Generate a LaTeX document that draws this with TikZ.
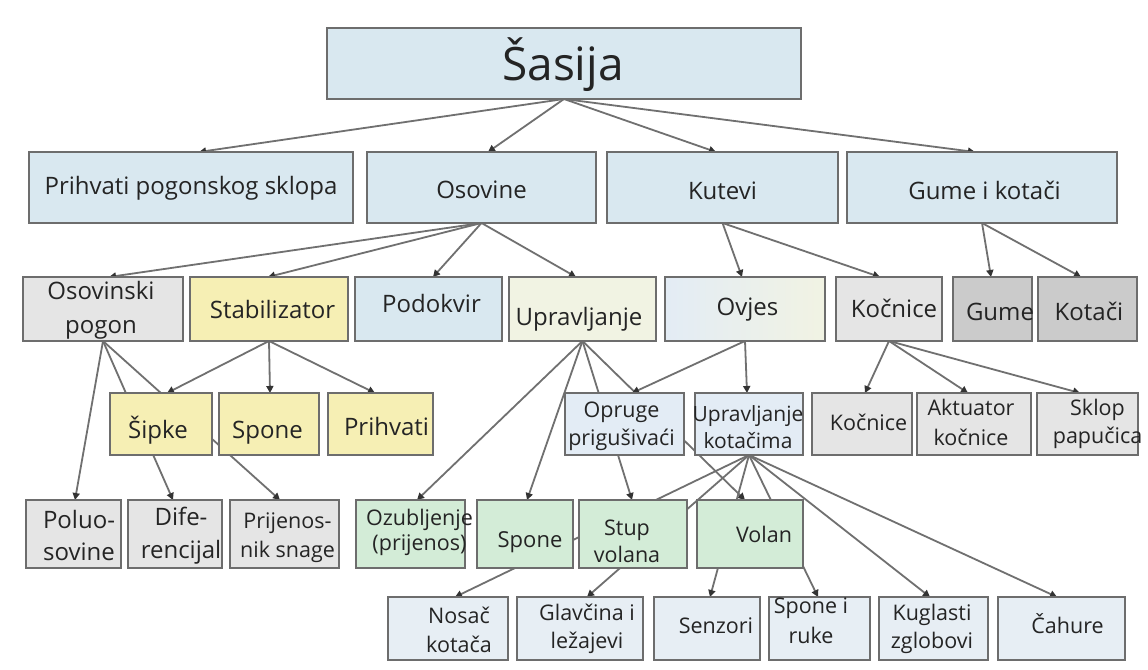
\documentclass[tikz,border=0pt]{standalone}
\usepackage{fontspec}
\setmainfont{Open Sans}
\usetikzlibrary{arrows.meta,backgrounds}
\definecolor{cBlue}{HTML}{D9E8F0}
\definecolor{cGrey}{HTML}{E5E5E5}
\definecolor{cDark}{HTML}{CBCBCB}
\definecolor{cYellow}{HTML}{F6EFB4}
\definecolor{cCream}{HTML}{F1F3E3}
\definecolor{cPale}{HTML}{E3ECF5}
\definecolor{cGreen}{HTML}{D3ECD7}
\definecolor{cLow}{HTML}{E7EEF4}
\definecolor{cBorder}{HTML}{6D6D6D}
\definecolor{cLine}{HTML}{707070}
\definecolor{cTxt}{HTML}{242424}
\newcommand\fs[2]{\fontsize{#1}{#2}\selectfont}
% #1 horizontal shift of text centre, #2 first baseline below box centre, #3 text
\newcommand\tx[3]{\makebox[0pt]{\hspace*{#1pt}\hspace*{#1pt}\raisebox{-#2pt}[0pt][0pt]{\begin{tabular}[t]{@{}c@{}}#3\end{tabular}}}}
\tikzset{
  bx/.style={draw=cBorder, line width=1.6, inner sep=0, outer sep=0, text=cTxt},
  ed/.style={draw=cLine, line width=1.8, -{Triangle[length=7pt,width=7pt,color=black!80]}},
}
\begin{document}
\begin{tikzpicture}[x=1pt,y=-1pt]
\useasboundingbox (0,0) rectangle (1148,669);
% level 0
\node[bx, fill=cBlue, minimum width=474, minimum height=71, font=\fs{46}{52}] (sasija) at (564,63.5) {\tx{-1}{17}{Šasija}};
% level 1
\node[bx, fill=cBlue, minimum width=324, minimum height=71, font=\fs{24}{34}] (prihvati) at (191,187.5) {\tx{0}{7}{Prihvati pogonskog sklopa}};
\node[bx, fill=cBlue, minimum width=229, minimum height=71, font=\fs{24}{34}] (osovine) at (481.5,187.5) {\tx{0}{10.5}{Osovine}};
\node[bx, fill=cBlue, minimum width=231, minimum height=71, font=\fs{24}{34}] (kutevi) at (722.5,187.5) {\tx{0}{11.5}{Kutevi}};
\node[bx, fill=cBlue, minimum width=270, minimum height=71, font=\fs{24}{34}] (gumeik) at (982,187.5) {\tx{2.5}{12}{Gume i kotači}};
% level 2
\node[bx, fill=cGrey, minimum width=160, minimum height=64, font=\fs{24}{34}] (osovpogon) at (103,309) {\tx{-2}{-10}{Osovinski\\pogon}};
\node[bx, fill=cYellow, minimum width=158, minimum height=64, font=\fs{24}{34}] (stabil) at (269,309) {\tx{3.5}{9}{Stabilizator}};
\node[bx, fill=cBlue, minimum width=147, minimum height=64, font=\fs{24}{34}] (podokvir) at (428.5,309) {\tx{3}{3}{Podokvir}};
\node[bx, fill=cCream, minimum width=147, minimum height=64, font=\fs{24}{34}] (upravljanje) at (582.5,309) {\tx{-3.5}{16}{Upravljanje}};
\node[bx, left color=cPale, right color=cCream, minimum width=160, minimum height=64, font=\fs{24}{34}] (ovjes) at (745,309) {\tx{2.5}{6}{Ovjes}};
\node[bx, fill=cGrey, minimum width=106, minimum height=64, font=\fs{24}{34}] (kocnice) at (889,309) {\tx{5}{8}{Kočnice}};
\node[bx, fill=cDark, minimum width=79, minimum height=64, font=\fs{24}{34}] (gume) at (992.5,309) {\tx{7.5}{11}{Gume}};
\node[bx, fill=cDark, minimum width=99, minimum height=64, font=\fs{24}{34}] (kotaci) at (1087.5,309) {\tx{1.5}{11}{Kotači}};
% level 3
\node[bx, fill=cYellow, minimum width=102, minimum height=62, font=\fs{24}{34}] (sipke) at (161,424) {\tx{-3}{14}{Šipke}};
\node[bx, fill=cYellow, minimum width=100, minimum height=62, font=\fs{24}{34}] (spone) at (269,424) {\tx{-1.5}{14}{Spone}};
\node[bx, fill=cYellow, minimum width=105, minimum height=62, font=\fs{24}{34}] (prihvati2) at (380.5,424) {\tx{6}{11}{Prihvati}};
\node[bx, fill=cPale, minimum width=119, minimum height=62, font=\fs{21.5}{28}] (opruge) at (624.5,424) {\tx{-3}{-7}{Opruge\\prigušivaći}};
\node[bx, fill=cPale, minimum width=108, minimum height=62, font=\fs{21}{27}] (upkot) at (749,424) {\tx{-1}{-3}{Upravljanje\\kotačima}};
\node[bx, fill=cGrey, minimum width=100, minimum height=62, font=\fs{21.5}{28}] (kocnice2) at (862,424) {\tx{6.5}{6}{Kočnice}};
\node[bx, fill=cGrey, minimum width=114, minimum height=62, font=\fs{21.5}{30}] (aktuator) at (974,424) {\tx{-3}{-9}{Aktuator\\kočnice}};
\node[bx, fill=cGrey, minimum width=101, minimum height=62, font=\fs{21.5}{28}] (sklop) at (1087.5,424) {\tx{10}{-9}{Sklop\\papučica}};
% level 4
\node[bx, fill=cGrey, minimum width=95, minimum height=68, font=\fs{24}{32}] (poluo) at (73.5,534) {\tx{5.5}{-6}{Poluo-\\sovine}};
\node[bx, fill=cGrey, minimum width=94, minimum height=68, font=\fs{24}{33}] (dife) at (175,534) {\tx{6}{-9}{Dife-\\rencijal}};
\node[bx, fill=cGrey, minimum width=109, minimum height=68, font=\fs{21.5}{29}] (prijenos) at (284.5,534) {\tx{3}{-6}{Prijenos-\\nik snage}};
\node[bx, fill=cGreen, minimum width=109, minimum height=68, font=\fs{21.5}{25}] (ozub) at (410.5,534) {\tx{9}{-9}{Ozubljenje\\(prijenos)}};
\node[bx, fill=cGreen, minimum width=96, minimum height=68, font=\fs{22}{28}] (spone2) at (525,534) {\tx{5}{13}{Spone}};
\node[bx, fill=cGreen, minimum width=108, minimum height=68, font=\fs{21.5}{27}] (stup) at (633,534) {\tx{-6}{1}{Stup\\volana}};
\node[bx, fill=cGreen, minimum width=106, minimum height=68, font=\fs{21.5}{27}] (volan) at (750,534) {\tx{14}{8}{Volan}};
% level 5
\node[bx, fill=cLow, minimum width=120, minimum height=63, font=\fs{21.5}{29}] (nosac) at (448,628.5) {\tx{11}{-5.5}{Nosač\\kotača}};
\node[bx, fill=cLow, minimum width=126, minimum height=63, font=\fs{21.5}{28}] (glavcina) at (580,628.5) {\tx{7}{-8.5}{Glavčina i\\ležajevi}};
\node[bx, fill=cLow, minimum width=106, minimum height=63, font=\fs{21.5}{28}] (senzori) at (707,628.5) {\tx{9}{4.5}{Senzori}};
\node[bx, fill=cLow, minimum width=101, minimum height=63, font=\fs{21.5}{30}] (sponeruke) at (819.5,628.5) {\tx{-8.5}{-15.5}{Spone i\\ruke}};
\node[bx, fill=cLow, minimum width=109, minimum height=63, font=\fs{21.5}{28}] (kuglasti) at (933.5,628.5) {\tx{-1.5}{-8.5}{Kuglasti\\zglobovi}};
\node[bx, fill=cLow, minimum width=127, minimum height=63, font=\fs{21.5}{28}] (cahure) at (1061.5,628.5) {\tx{6}{4.5}{Čahure}};
% connectors (behind the boxes)
\begin{scope}[on background layer]
\fill[white] (0,0) rectangle (1148,669);
\draw[ed] (sasija.south) -- ([xshift=8pt]prihvati.north);
\draw[ed] (sasija.south) -- ([xshift=6.5pt]osovine.north);
\draw[ed] (sasija.south) -- ([xshift=-6.5pt]kutevi.north);
\draw[ed] (sasija.south) -- ([xshift=-7pt]gumeik.north);
\draw[ed] (osovine.south) -- ([xshift=6pt]osovpogon.north);
\draw[ed] (osovine.south) -- ([xshift=-1pt]stabil.north);
\draw[ed] (osovine.south) -- ([xshift=4.5pt]podokvir.north);
\draw[ed] (osovine.south) -- ([xshift=-6.5pt]upravljanje.north);
\draw[ed] (kutevi.south) -- ([xshift=-3pt]ovjes.north);
\draw[ed] (kutevi.south) -- ([xshift=-9pt]kocnice.north);
\draw[ed] (gumeik.south) -- ([xshift=-1.5pt]gume.north);
\draw[ed] (gumeik.south) -- ([xshift=-6.5pt]kotaci.north);
\draw[ed] (osovpogon.south) -- ([xshift=1.5pt]poluo.north);
\draw[ed] (osovpogon.south) -- ([xshift=-2pt]dife.north);
\draw[ed] (osovpogon.south) -- ([xshift=-4.5pt]prijenos.north);
\draw[ed] (stabil.south) -- ([xshift=6pt]sipke.north);
\draw[ed] (stabil.south) -- ([xshift=1pt]spone.north);
\draw[ed] (stabil.south) -- ([xshift=-5.5pt]prihvati2.north);
\draw[ed] (upravljanje.south) -- ([xshift=6.5pt]ozub.north);
\draw[ed] (upravljanje.south) -- ([xshift=2pt]spone2.north);
\draw[ed] (upravljanje.south) -- ([xshift=-1pt]stup.north);
\draw[ed] (upravljanje.south) -- ([xshift=-5pt]volan.north);
\draw[ed] (ovjes.south) -- ([xshift=7.5pt]opruge.north);
\draw[ed] (ovjes.south) -- ([xshift=-2pt]upkot.north);
\draw[ed] (kocnice.south) -- ([xshift=3pt]kocnice2.north);
\draw[ed] (kocnice.south) -- ([xshift=-6pt]aktuator.north);
\draw[ed] (kocnice.south) -- ([xshift=-7.5pt]sklop.north);
\draw[ed] (upkot.south) -- ([xshift=7pt]nosac.north);
\draw[ed] (upkot.south) -- ([xshift=7pt]glavcina.north);
\draw[ed] (upkot.south) -- ([xshift=3pt]senzori.north);
\draw[ed] (upkot.south) -- ([xshift=-1.5pt]sponeruke.north);
\draw[ed] (upkot.south) -- ([xshift=-3.5pt]kuglasti.north);
\draw[ed] (upkot.south) -- ([xshift=-4.5pt]cahure.north);
\end{scope}
\end{tikzpicture}
\end{document}
